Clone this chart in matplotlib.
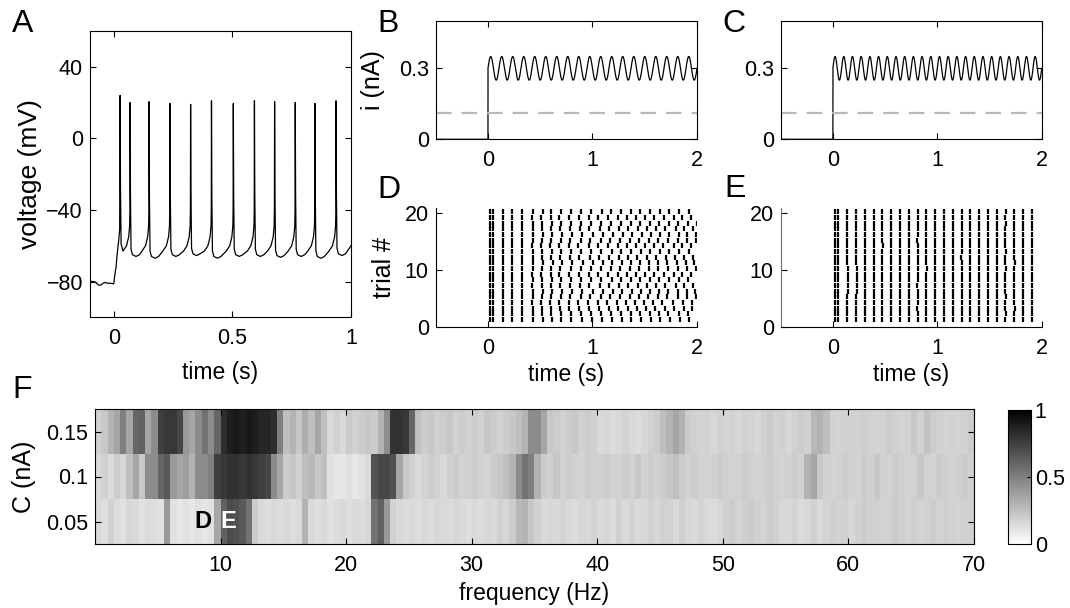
import numpy as np
import matplotlib
matplotlib.use("Agg")
import matplotlib.pyplot as plt

# ---------------- data ----------------
# Panel A: membrane voltage (single trial)
A_pre_t = [-0.100, -0.085, -0.075, -0.065, -0.055, -0.045, -0.035, -0.025, -0.012, 0.000,
           0.005, 0.010, 0.015, 0.021, 0.025]
A_pre_v = [-80.0, -80.0, -80.5, -82.0, -82.0, -81.0, -80.5, -81.0, -81.0, -81.3,
           -76.0, -71.7, -64.0, -57.0, -51.0]
A_spike_times = [0.027, 0.069, 0.149, 0.237, 0.324, 0.412, 0.504, 0.593, 0.678, 0.765, 0.848, 0.937]
A_spike_peaks = [24.0, 20.0, 20.5, 19.5, 19.0, 21.0, 19.5, 21.0, 20.5, 20.0, 19.5, 21.0]
A_troughs = [-63.0, -66.0, -67.0, -66.0, -65.5, -67.0, -66.0, -66.0, -66.5, -66.0, -67.0, -65.5]
# after-spike shape (time after spike, voltage relative to trough)
A_post_dt = [0.0015, 0.004, 0.010, 0.025, 0.040]
A_post_dv = [35.0, 4.0, 1.0, 0.0, 1.0]
# pre-spike ramp (time before next spike, voltage)
A_ramp_dt = [-0.030, -0.015, -0.006, -0.002, -0.0008]
A_ramp_v = [-63.0, -60.0, -55.0, -49.0, -40.0]
A_end_t, A_end_v = 1.0, -60.0

# Panels B, C: injected current (sinusoidal stimulus)
stim_offset = 0.30      # nA
stim_amp = 0.05         # nA
stim_freq_B = 9.5       # Hz
stim_freq_C = 12.0      # Hz
threshold_current = 0.113  # nA (dashed line)

# Panel D: spike raster, stimulus B (column times in s, per-trial jitter in ms)
D_cols = [0.020, 0.045, 0.140, 0.235, 0.330, 0.430, 0.518, 0.606, 0.694, 0.788, 0.884, 0.979,
          1.075, 1.170, 1.262, 1.352, 1.442, 1.532, 1.622, 1.712, 1.808, 1.895, 1.980]
D_jit = [
    [2, 5, 6, 9, 10, 13, 14, 17, 18, 21, 22, 26, 27, 29, 31, 34, 35, 38],
    [1, 3, 2, 5, 6, 5, 8, 10, 9, 12, 14, 13, 16, 18, 17, 20, 22, 21],
    [-2, -3, -5, -4, -7, -8, -10, -9, -12, -14, -13, -16, -18, -17, -20, -22, -21, -24],
    [-4, -6, -9, -12, -14, -17, -19, -22, -25, -27, -30, -32, -35, -37, -40, -36, -30, -25],
    [0, 2, -1, 3, 1, 4, 2, 6, 3, 7, 5, 9, 6, 10, 8, 12, 9, 13],
    [5, 8, 12, 15, 18, 22, 25, 28, 30, 27, 24, 20, 18, 15, 12, 10, 8, 5],
    [-3, -1, -4, -2, -6, -3, -7, -5, -9, -6, -10, -8, -12, -9, -13, -11, -15, -12],
    [3, 1, 4, 7, 5, 9, 12, 10, 14, 17, 15, 19, 22, 20, 24, 27, 25, 29],
    [-5, -8, -6, -10, -13, -11, -15, -18, -16, -20, -23, -21, -25, -28, -26, -30, -33, -31],
    [2, 0, 3, 1, 5, 3, 7, 4, 8, 6, 10, 7, 12, 9, 14, 11, 16, 13],
    [6, 10, 13, 17, 20, 24, 27, 25, 22, 19, 16, 13, 10, 7, 4, 1, -2, -5],
    [-1, -4, -2, -5, -3, -7, -4, -8, -6, -10, -7, -11, -9, -13, -10, -14, -12, -16],
    [4, 2, 5, 8, 6, 10, 8, 12, 15, 13, 17, 20, 18, 22, 25, 23, 27, 30],
    [-6, -9, -12, -10, -14, -17, -15, -19, -22, -20, -24, -27, -25, -29, -32, -30, -34, -36],
    [1, 3, 1, 4, 2, 5, 3, 7, 4, 8, 6, 10, 7, 12, 9, 13, 11, 15],
    [3, 7, 10, 14, 17, 21, 24, 28, 31, 35, 33, 30, 27, 24, 21, 18, 15, 12],
    [-2, 0, -3, -1, -4, -2, -6, -3, -7, -5, -9, -6, -11, -8, -12, -10, -14, -11],
    [5, 3, 7, 5, 9, 7, 11, 9, 13, 11, 15, 13, 17, 15, 19, 17, 21, 19],
    [-4, -7, -5, -9, -12, -10, -14, -17, -15, -19, -22, -20, -24, -27, -25, -29, -32, -30],
    [2, 5, 3, 7, 9, 8, 11, 14, 12, 16, 18, 17, 20, 23, 21, 25, 27, 26],
]

# Panel E: spike raster, stimulus C
E_cols = [0.018, 0.047, 0.138, 0.224, 0.306, 0.390, 0.474, 0.558, 0.642, 0.727, 0.811, 0.895,
          0.980, 1.064, 1.148, 1.232, 1.316, 1.401, 1.485, 1.569, 1.653, 1.738, 1.822, 1.906]
E_jit = [
    [0, 0, 1, 0, -1, 0, 1, 0, 0, -1, 0, 1, 0, 0, -1, 0, 1, 0, 0, -1, 0, 0, 1, 0],
    [0, 1, 0, -1, 0, 1, 0, 0, -1, 0, 1, 0, 0, -1, 0, 1, 0, -1, 0, 0, 1, 0, 0, -1],
    [1, 0, -1, 0, 2, 0, -1, 1, 0, 0, -1, 0, 1, 0, 0, 2, 0, 0, -1, 1, 0, 2, 0, 0],
    [0, 0, 0, 1, 0, -1, 0, 2, 1, 0, 0, -1, 0, 1, 0, 0, -2, 0, 1, 0, -1, 0, 1, 0],
    [0, -1, 1, 0, 0, 1, -1, 0, 0, 2, 0, 0, -1, 0, 2, 0, 0, 1, 0, 0, 3, 0, -1, 0],
    [0, 0, 2, 3, 1, 0, 0, -1, 0, 1, 0, 0, 2, 0, -1, 0, 1, 0, 0, 2, 0, -1, 0, 1],
    [1, 0, 3, 4, 2, 1, 0, 0, 1, 0, -1, 0, 0, 1, 0, 0, -1, 0, 2, 0, 0, 1, 0, 0],
    [0, 1, 5, 6, 4, 2, 1, 0, 0, -1, 0, 1, 0, 0, 1, 0, 0, -1, 0, 1, 0, 0, 2, 0],
    [0, 0, 4, 5, 3, 1, 0, 1, 0, 0, 1, 0, -1, 0, 0, 1, 0, 0, 1, 0, -1, 0, 0, 1],
    [1, 0, 2, 3, 2, 0, 0, 0, -1, 0, 0, 2, 0, 0, 1, 0, 0, 2, 0, 0, 1, 0, 0, 0],
    [0, 0, 1, 1, 0, 0, 1, 0, 0, 1, 0, 0, -1, 0, 0, 0, 1, 0, 0, -1, 0, 2, 0, 0],
    [0, 1, 0, 0, 1, 0, 0, -1, 0, 0, 2, 0, 0, 1, 0, -1, 0, 0, 1, 0, 0, 0, 1, 0],
    [0, 0, 1, 0, 0, -1, 0, 1, 0, 0, 0, 1, 0, 0, -1, 0, 2, 0, 0, 0, 1, 0, 0, -1],
    [1, 0, 0, 1, 0, 0, 2, 0, 0, -1, 0, 0, 1, 0, 0, 0, 0, 1, 0, 2, 0, 0, 0, 1],
    [0, 0, 0, 0, 1, 0, 0, 1, 0, 0, -1, 0, 0, 2, 0, 0, 1, 0, -1, 0, 0, 1, 0, 0],
    [0, 1, 1, 0, 0, 0, -1, 0, 1, 0, 0, 0, 1, 0, 0, 1, 0, 0, 0, 1, 0, 0, -1, 0],
    [0, 0, 0, 1, 0, 1, 0, 0, 0, 1, 0, -1, 0, 0, 1, 0, 0, 0, 1, 0, 0, 1, 0, 0],
    [1, 0, 1, 0, 0, 0, 1, 0, -1, 0, 0, 1, 0, 0, 0, 1, 0, 2, 0, 0, 1, 0, 0, 1],
    [0, 0, 0, 0, 1, 0, 0, 0, 1, 0, 1, 0, 0, -1, 0, 0, 1, 0, 0, 1, 0, 0, 1, 0],
    [0, 1, 0, 1, 0, 0, 0, 1, 0, 0, 0, 0, 1, 0, 0, 1, 0, 0, 0, 0, 1, 0, 0, 1],
]

# Panel F: spike-train reliability vs stimulus frequency (0.5 Hz bins, 0-70 Hz)
F_amplitudes = [0.05, 0.10, 0.15]   # nA
F_row_005 = [
    0.15, 0.13, 0.18, 0.14, 0.12, 0.16, 0.15, 0.12, 0.14, 0.13,
    0.12, 0.40, 0.12, 0.10, 0.12, 0.10, 0.12, 0.10, 0.12, 0.35,
    0.62, 0.70, 0.68, 0.65, 0.55, 0.20, 0.15, 0.13, 0.15, 0.14,
    0.15, 0.13, 0.15, 0.30, 0.15, 0.13, 0.15, 0.12, 0.14, 0.15,
    0.13, 0.15, 0.14, 0.16, 0.55, 0.62, 0.40, 0.18, 0.15, 0.14,
    0.15, 0.13, 0.15, 0.14, 0.16, 0.15, 0.14, 0.16, 0.15, 0.13,
    0.15, 0.14, 0.16, 0.15, 0.18, 0.16, 0.20, 0.28, 0.30, 0.22,
    0.18, 0.15, 0.16, 0.15, 0.17, 0.15, 0.14, 0.16, 0.15, 0.17,
    0.15, 0.16, 0.14, 0.18, 0.15, 0.17, 0.15, 0.16, 0.18, 0.16,
    0.18, 0.17, 0.15, 0.19, 0.16, 0.15, 0.17, 0.15, 0.14, 0.16,
    0.18, 0.20, 0.17, 0.19, 0.21, 0.18, 0.17, 0.20, 0.18, 0.16,
    0.15, 0.17, 0.14, 0.16, 0.18, 0.15, 0.17, 0.19, 0.17, 0.18,
    0.16, 0.18, 0.20, 0.18, 0.19, 0.17, 0.18, 0.21, 0.19, 0.17,
    0.19, 0.17, 0.18, 0.20, 0.17, 0.19, 0.18, 0.17, 0.19, 0.18,
]
F_row_010 = [
    0.15, 0.18, 0.14, 0.20, 0.16, 0.25, 0.35, 0.22, 0.45, 0.45,
    0.60, 0.65, 0.40, 0.35, 0.38, 0.30, 0.45, 0.45, 0.50, 0.75,
    0.78, 0.80, 0.80, 0.78, 0.80, 0.78, 0.75, 0.72, 0.45, 0.35,
    0.20, 0.22, 0.18, 0.25, 0.28, 0.22, 0.25, 0.12, 0.10, 0.10,
    0.12, 0.10, 0.12, 0.15, 0.68, 0.72, 0.72, 0.68, 0.35, 0.22,
    0.18, 0.15, 0.17, 0.20, 0.18, 0.15, 0.18, 0.20, 0.17, 0.18,
    0.20, 0.18, 0.17, 0.20, 0.22, 0.25, 0.30, 0.45, 0.55, 0.50,
    0.30, 0.20, 0.18, 0.22, 0.18, 0.20, 0.18, 0.17, 0.20, 0.18,
    0.18, 0.20, 0.17, 0.18, 0.20, 0.18, 0.22, 0.18, 0.20, 0.18,
    0.20, 0.22, 0.25, 0.20, 0.18, 0.20, 0.18, 0.17, 0.18, 0.20,
    0.18, 0.17, 0.18, 0.20, 0.18, 0.17, 0.18, 0.20, 0.18, 0.17,
    0.18, 0.20, 0.18, 0.30, 0.35, 0.22, 0.18, 0.17, 0.18, 0.20,
    0.18, 0.17, 0.20, 0.18, 0.22, 0.18, 0.17, 0.20, 0.18, 0.17,
    0.18, 0.22, 0.18, 0.17, 0.20, 0.18, 0.17, 0.18, 0.20, 0.18,
]
F_row_015 = [
    0.18, 0.22, 0.30, 0.35, 0.50, 0.35, 0.60, 0.62, 0.35, 0.45,
    0.75, 0.78, 0.78, 0.72, 0.40, 0.35, 0.45, 0.55, 0.45, 0.60,
    0.82, 0.88, 0.90, 0.88, 0.90, 0.88, 0.85, 0.85, 0.82, 0.50,
    0.25, 0.30, 0.22, 0.32, 0.25, 0.35, 0.25, 0.15, 0.18, 0.15,
    0.20, 0.18, 0.20, 0.22, 0.20, 0.30, 0.45, 0.80, 0.80, 0.78,
    0.60, 0.25, 0.20, 0.22, 0.18, 0.20, 0.22, 0.18, 0.20, 0.18,
    0.20, 0.18, 0.22, 0.20, 0.18, 0.20, 0.22, 0.25, 0.30, 0.45,
    0.45, 0.35, 0.22, 0.20, 0.18, 0.20, 0.22, 0.18, 0.20, 0.18,
    0.15, 0.16, 0.14, 0.15, 0.17, 0.15, 0.14, 0.16, 0.18, 0.20,
    0.25, 0.30, 0.35, 0.30, 0.20, 0.18, 0.17, 0.18, 0.16, 0.18,
    0.17, 0.18, 0.16, 0.18, 0.17, 0.16, 0.18, 0.20, 0.17, 0.18,
    0.16, 0.18, 0.20, 0.18, 0.28, 0.30, 0.25, 0.18, 0.17, 0.18,
    0.18, 0.17, 0.19, 0.18, 0.17, 0.18, 0.20, 0.18, 0.17, 0.18,
    0.22, 0.18, 0.24, 0.20, 0.18, 0.17, 0.18, 0.17, 0.18, 0.20,
]
F_freq_range = (0.0, 70.0)
F_marks = [("D", 8.6, "black"), ("E", 10.6, "white")]

# ---------------- figure ----------------
plt.rcParams["font.family"] = ["Liberation Sans", "DejaVu Sans"]
plt.rcParams["axes.linewidth"] = 0.8
TICK_FS = 15.5
LAB_FS = 16.5
YLAB_FS = 18
LETTER_FS = 23

W, H = 1070, 608
fig = plt.figure(figsize=(W / 100, H / 100), dpi=100)


def px_axes(x0, y0, x1, y1):
    return fig.add_axes([x0 / W, 1 - y1 / H, (x1 - x0) / W, (y1 - y0) / H])


def style(ax, box=True):
    ax.tick_params(direction="in", length=4, width=0.8, labelsize=TICK_FS,
                   top=box, right=box)
    ax.tick_params(axis="x", pad=8)
    ax.tick_params(axis="y", pad=5)
    if not box:
        ax.spines["top"].set_visible(False)
        ax.spines["right"].set_visible(False)


def letter(s, x, y):
    fig.text(x / W, 1 - y / H, s, fontsize=LETTER_FS, va="baseline", ha="left")


# ---- A ----
axA = px_axes(90, 31, 351, 317.3)
tA = list(A_pre_t)
vA = list(A_pre_v)
n = len(A_spike_times)
for i, ts in enumerate(A_spike_times):
    tA.append(ts)
    vA.append(A_spike_peaks[i])
    nxt = A_spike_times[i + 1] if i + 1 < n else None
    limit = (nxt + A_ramp_dt[0] - 0.002) if nxt is not None else A_end_t
    for dt, dv in zip(A_post_dt, A_post_dv):
        if ts + dt < limit:
            tA.append(ts + dt)
            vA.append(A_troughs[i] + dv)
    if nxt is not None:
        for dt, v in zip(A_ramp_dt, A_ramp_v):
            tA.append(nxt + dt)
            vA.append(v)
tA.append(A_end_t)
vA.append(A_end_v)
axA.plot(tA, vA, color="black", lw=0.9)
axA.set_xlim(-0.1, 1.0)
axA.set_ylim(-100, 60)
axA.set_xticks([0, 0.5, 1])
axA.set_xticklabels(["0", "0.5", "1"])
axA.set_yticks([-80, -40, 0, 40])
axA.set_yticklabels(["\u221280", "\u221240", "0", "40"])
axA.set_xlabel("time (s)", fontsize=LAB_FS, labelpad=8)
axA.set_ylabel("voltage (mV)", fontsize=19, labelpad=3)
style(axA)


# ---- B, C ----
def current_panel(ax, freq, ylabel):
    t = np.linspace(0, 2, 3000)
    cur = stim_offset + stim_amp * np.sin(2 * np.pi * freq * t)
    tt = np.concatenate([[-0.5, 0.0], t])
    cc = np.concatenate([[0.0, 0.0], cur])
    ax.plot(tt, cc, color="black", lw=0.9)
    ax.axhline(threshold_current, color="#b8b8b8", lw=1.6, dashes=(7, 4.5))
    ax.set_xlim(-0.5, 2)
    ax.set_ylim(0, 0.5)
    ax.set_xticks([0, 1, 2])
    ax.set_yticks([0, 0.3])
    ax.set_yticklabels(["0", "0.3"])
    if ylabel:
        ax.set_ylabel(ylabel, fontsize=YLAB_FS, labelpad=10)
    style(ax)


axB = px_axes(435.7, 21, 697, 139.3)
current_panel(axB, stim_freq_B, "i (nA)")
axC = px_axes(780.7, 21, 1041.7, 139.3)
current_panel(axC, stim_freq_C, None)


# ---- D, E ----
def raster(ax, cols, jit, n_aligned, ylabel, left_color):
    for r, row in enumerate(jit, start=1):
        times = []
        for j, c in enumerate(cols):
            k = j - n_aligned
            off = row[k] / 1000.0 if 0 <= k < len(row) else 0.0
            t = c + off
            if t <= 2.0:
                times.append(t)
        ax.vlines(times, r - 0.15, r + 0.72, color="black", lw=1.6)
    ax.set_xlim(-0.5, 2)
    ax.set_ylim(0, 21)
    ax.set_xticks([0, 1, 2])
    ax.set_yticks([0, 10, 20])
    ax.set_xlabel("time (s)", fontsize=LAB_FS, labelpad=3)
    if ylabel:
        ax.set_ylabel(ylabel, fontsize=YLAB_FS, labelpad=6)
    style(ax, box=False)
    ax.spines["left"].set_color(left_color)


axD = px_axes(435.7, 207.7, 696.7, 326.7)
raster(axD, D_cols, D_jit, 5, "trial #", "black")
axE = px_axes(780.7, 207.7, 1041.7, 326.7)
raster(axE, E_cols, E_jit, 0, None, "#707070")

# ---- F ----
axF = px_axes(95, 409, 974, 544)
grid = np.array([F_row_005, F_row_010, F_row_015])
im = axF.imshow(grid, cmap="gray_r", vmin=0, vmax=1, aspect="auto", origin="lower",
                interpolation="nearest",
                extent=(F_freq_range[0], F_freq_range[1], 0.025, 0.175))
axF.set_xlim(*F_freq_range)
axF.set_ylim(0.025, 0.175)
axF.set_xticks([10, 20, 30, 40, 50, 60, 70])
axF.set_yticks(F_amplitudes)
axF.set_yticklabels(["0.05", "0.1", "0.15"])
axF.set_xlabel("frequency (Hz)", fontsize=LAB_FS, labelpad=4)
axF.set_ylabel("C (nA)", fontsize=YLAB_FS, labelpad=7)
style(axF)
for s, f, col in F_marks:
    axF.text(f, F_amplitudes[0], s, color=col, fontsize=17, fontweight="bold",
             ha="center", va="center")

cax = px_axes(1007.6, 409.7, 1030.7, 544)
cb = fig.colorbar(im, cax=cax, ticks=[0, 0.5, 1])
cb.ax.set_yticklabels(["0", "0.5", "1"])
cb.ax.tick_params(direction="in", length=3, width=0.8, labelsize=TICK_FS, pad=3)
cb.outline.set_linewidth(0.8)

# ---- panel letters ----
letter("A", 12, 32)
letter("B", 377, 32)
letter("C", 722, 32)
letter("D", 377, 198)
letter("E", 724, 197)
letter("F", 12, 398)

fig.savefig("out.png", dpi=100)
